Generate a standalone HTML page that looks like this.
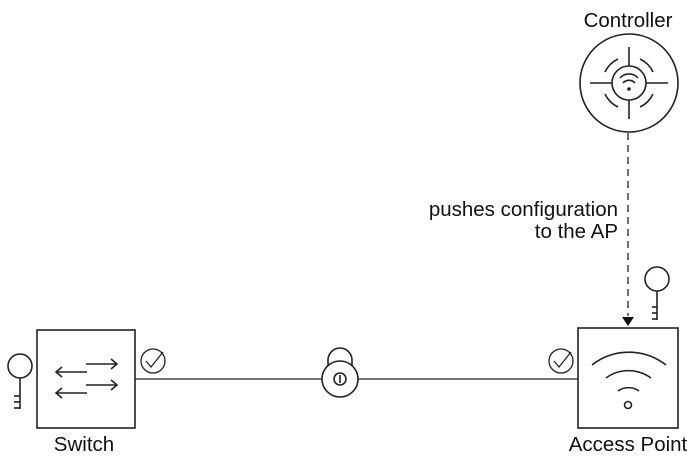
<!DOCTYPE html>
<html><head><meta charset="utf-8"><style>
html,body{margin:0;padding:0;background:#fff;}
svg{display:block;}
text{font-family:"Liberation Sans",sans-serif;fill:#111;}
</style></head><body>
<svg width="700" height="465" viewBox="0 0 700 465" xmlns="http://www.w3.org/2000/svg">
<g fill="none" stroke="#222" stroke-width="1.6">
<circle cx="629" cy="83" r="49"/>
<circle cx="629" cy="83" r="17"/>
<line x1="629" y1="47" x2="629" y2="66"/>
<line x1="629" y1="100" x2="629" y2="119"/>
<line x1="590" y1="83" x2="612" y2="83"/>
<line x1="646" y1="83" x2="668" y2="83"/>
<path d="M605,72 A27,27 0 0 1 618,59"/>
<path d="M640,59 A27,27 0 0 1 653,72"/>
<path d="M653,94 A27,27 0 0 1 640,107"/>
<path d="M618,107 A27,27 0 0 1 605,94"/>
<path d="M620,78 A12,12 0 0 1 638,78"/>
<path d="M623,83 A8,8 0 0 1 635,83"/>
<line x1="628" y1="133" x2="628" y2="316" stroke-dasharray="7,5" stroke-width="1.3"/>
<rect x="578" y="328" width="100" height="100"/>
<path d="M592,365 A60,60 0 0 1 666,365"/>
<path d="M606,378 A38,38 0 0 1 651,378"/>
<path d="M618,391 A18,18 0 0 1 639,391"/>
<circle cx="628" cy="405" r="3.5"/>
<circle cx="657" cy="279" r="12"/>
<line x1="657" y1="291" x2="657" y2="320"/>
<line x1="652" y1="307" x2="657" y2="307"/>
<line x1="652" y1="313" x2="657" y2="313"/>
<line x1="652" y1="319" x2="657" y2="319"/>
<line x1="135" y1="379" x2="322" y2="379" stroke-width="1.3"/>
<line x1="358" y1="379" x2="578" y2="379" stroke-width="1.3"/>
<circle cx="340" cy="379" r="18"/>
<path d="M328,366 L328,360 A12,12 0 0 1 352,360 L352,366"/>
<circle cx="340" cy="379" r="6"/>
<line x1="340" y1="375" x2="340" y2="383"/>
<circle cx="561" cy="361" r="12" stroke-width="1.3"/>
<path d="M554,361 L559,367 L571,352" stroke-width="1.3"/>
<circle cx="153" cy="361" r="12" stroke-width="1.3"/>
<path d="M146,361 L151,367 L163,352" stroke-width="1.3"/>
<rect x="37" y="330" width="98" height="98"/>
<line x1="86" y1="364" x2="117" y2="364"/>
<path d="M111,359 L117,364 L111,369"/>
<line x1="86" y1="385" x2="117" y2="385"/>
<path d="M111,380 L117,385 L111,390"/>
<line x1="56" y1="372" x2="87" y2="372"/>
<path d="M62,367 L56,372 L62,377"/>
<line x1="56" y1="393" x2="87" y2="393"/>
<path d="M62,388 L56,393 L62,398"/>
<circle cx="20" cy="366" r="12"/>
<line x1="20" y1="378" x2="20" y2="409"/>
<line x1="14" y1="396" x2="20" y2="396"/>
<line x1="14" y1="402" x2="20" y2="402"/>
<line x1="14" y1="408" x2="20" y2="408"/>
</g>
<circle cx="629" cy="89" r="1.8" fill="#222"/>
<path d="M622,317 L634,317 L628,326 Z" fill="#111"/>
<text x="628" y="27" font-size="20.5" text-anchor="middle">Controller</text>
<text x="618" y="216" font-size="20.5" text-anchor="end">pushes configuration</text>
<text x="618" y="238" font-size="20.5" text-anchor="end">to the AP</text>
<text x="84" y="451" font-size="20.5" text-anchor="middle">Switch</text>
<text x="628" y="451" font-size="20.5" text-anchor="middle">Access Point</text>
</svg>
</body></html>
